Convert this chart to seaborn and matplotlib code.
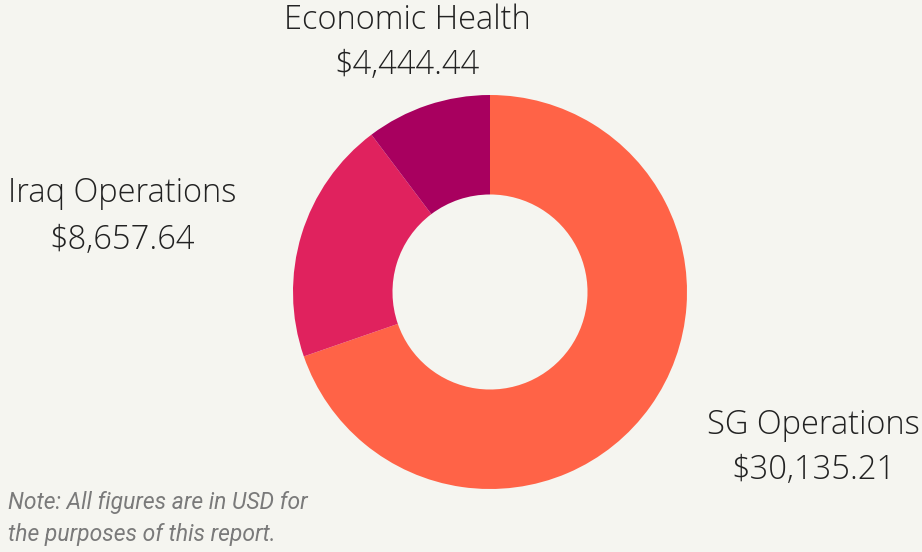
import matplotlib
matplotlib.use("Agg")
import matplotlib.pyplot as plt
import seaborn as sns

categories = ["SG Operations", "Iraq Operations", "Economic Health"]
values = [30135.21, 8657.64, 4444.44]
value_labels = ["$30,135.21", "$8,657.64", "$4,444.44"]
colors = ["#FF6347", "#E0225E", "#A8005F"]
note = "Note: All figures are in USD for\nthe purposes of this report."

sns.set_theme(style="white")
bg = "#F5F5F0"
W, H = 922, 552
fig = plt.figure(figsize=(W / 100, H / 100), dpi=100, facecolor=bg)
ax = fig.add_axes([0, 0, 1, 1])
ax.set_facecolor(bg)

cx, cy, R = 490, H - 292, 197
ax.pie(values, colors=colors, startangle=90, counterclock=False,
       center=(cx, cy), radius=R,
       wedgeprops=dict(width=R * 0.505, linewidth=0))
ax.set_xlim(0, W)
ax.set_ylim(0, H)
ax.set_aspect("equal")
ax.axis("off")

label_pos = {
    "SG Operations": (813, 425, 470),
    "Iraq Operations": (122, 193, 240),
    "Economic Health": (407, 20, 65),
}
font = dict(family=["Open Sans", "DejaVu Sans"], weight="light", color="#222222", fontsize=23.5)
for cat, val in zip(categories, value_labels):
    x, y1, y2 = label_pos[cat]
    ax.text(x, H - y1, cat, ha="center", va="center", **font)
    ax.text(x, H - y2, val, ha="center", va="center", **font)

ax.text(8, H - 518, note, ha="left", va="center", family=["Roboto", "DejaVu Sans"],
        style="italic", color="#7a7a7a", fontsize=16.5, linespacing=1.5)

fig.savefig("out.png", dpi=100, facecolor=bg)
